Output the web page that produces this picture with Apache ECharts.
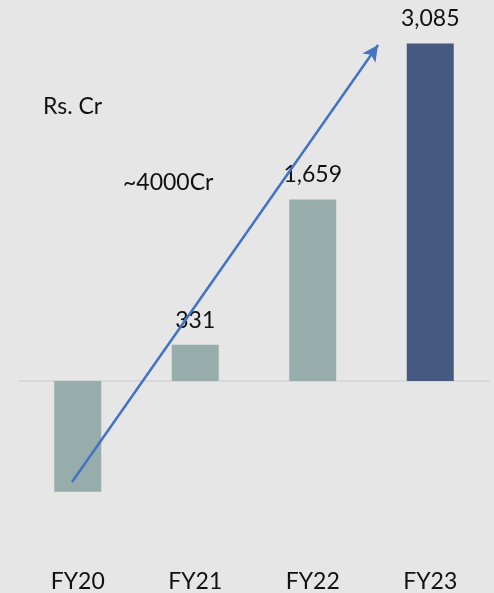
<!DOCTYPE html>
<html>
<head>
<meta charset="utf-8">
<script src="https://cdn.jsdelivr.net/npm/echarts@6/dist/echarts.min.js"></script>
<style>
html,body{margin:0;padding:0;background:#e6e6e6;}
#c{width:494px;height:593px;}
</style>
</head>
<body>
<div id="c"></div>
<script>
const categories = ['FY20', 'FY21', 'FY22', 'FY23'];
const values = [-1013, 331, 1659, 3085];
const barColors = ['#97adac', '#97adac', '#97adac', '#465a81'];
const showLabel = [false, true, true, true];

const FONT = 'Lato, "Open Sans", sans-serif';
const FS = 23;
const chart = echarts.init(document.getElementById('c'), null, {renderer: 'canvas'});
chart.setOption({
  backgroundColor: '#e6e6e6',
  animation: false,
  grid: {left: 19, right: 5, top: 31, bottom: 47},
  xAxis: [{
    type: 'category', data: categories,
    axisLine: {show: false, onZero: false}, axisTick: {show: false},
    axisLabel: {margin: 25, color: '#111', fontSize: FS, fontFamily: FONT}
  }, {
    type: 'category', data: categories, position: 'bottom',
    axisLine: {show: true, onZero: true, lineStyle: {color: '#d4d4d4', width: 1.5}},
    axisTick: {show: false}, axisLabel: {show: false}
  }],
  yAxis: {type: 'value', min: -1500, max: 3200, show: false, splitLine: {show: false}},
  graphic: [
    {type: 'text', left: 43, top: 95, style: {text: 'Rs. Cr', fontSize: FS, fontFamily: FONT, fill: '#111'}},
    {type: 'text', left: 123, top: 171, style: {text: '~4000Cr', fontSize: FS, fontFamily: FONT, fill: '#111'}}
  ],
  series: [{
    type: 'bar',
    xAxisIndex: 0,
    barWidth: '40%',
    data: values.map((v, i) => ({
      value: v,
      itemStyle: {color: barColors[i]},
      label: {show: showLabel[i]}
    })),
    label: {
      position: 'top', distance: 13, color: '#111', fontSize: FS, fontFamily: FONT,
      formatter: p => p.value.toLocaleString('en-US')
    },
    markLine: {
      silent: true,
      symbol: ['none', 'arrow'],
      symbolSize: [12, 16],
      lineStyle: {color: '#4472c4', width: 2.5, type: 'solid'},
      label: {show: false},
      data: [[{x: 72, y: 482}, {x: 378, y: 45}]]
    }
  }]
});
</script>
</body>
</html>
